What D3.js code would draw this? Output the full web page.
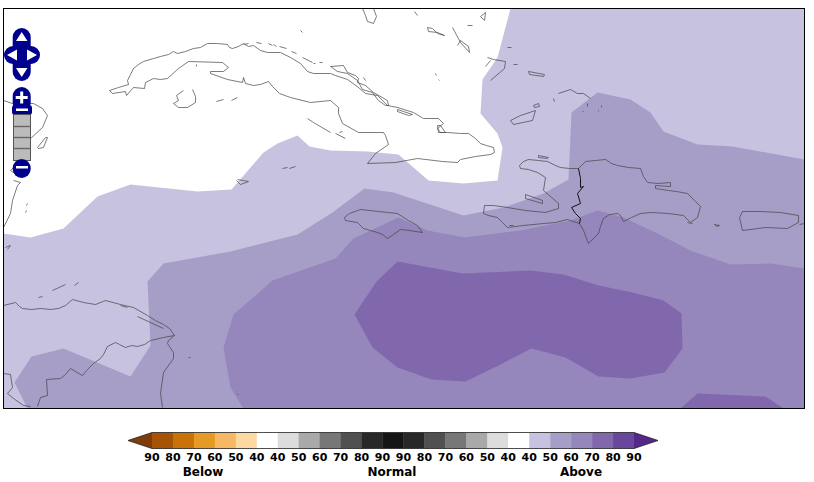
<!DOCTYPE html>
<html>
<head>
<meta charset="utf-8">
<script src="https://cdnjs.cloudflare.com/ajax/libs/d3/7.8.5/d3.min.js"></script>
<style>
	html, body { margin: 0; padding: 0; background: #fff; }
	text { font-family: "DejaVu Sans", sans-serif; fill: #000; }
</style>
</head>
<body>
<svg id="chart" width="814" height="482"></svg>
<script>
// Map values are read in grid units: 0-801 across, 0-400 down the map frame.

// Probability of the "above" tercile, outer edge of each shaded area
const above40 = [[507,0],[494,49],[479,71],[477,105],[494,125],[499,139],[494,172],[460,175],[425,172],[395,146],[364,143],[327,142],[306,138],[294,127],[274,135],[260,144],[228,181],[194,183],[127,176],[94,188],[60,220],[27,229],[0,225],[0,400],[801,400],[801,0]]
const above50 = [[594,84],[627,91],[647,104],[660,123],[694,136],[729,138],[801,151],[801,400],[24,400],[11,374],[28,348],[60,340],[127,368],[147,337],[144,273],[160,255],[227,243],[294,226],[329,204],[361,180],[390,184],[460,207],[500,199],[540,185],[565,171],[568,104]]
const above60 = [[220,339],[230,306],[269,272],[332,250],[350,230],[395,209],[424,222],[461,229],[517,222],[567,212],[594,202],[620,209],[654,225],[687,242],[727,256],[767,255],[801,260],[801,400],[240,400],[227,379]]
const above70 = [[394,253],[459,265],[527,262],[560,266],[595,277],[629,284],[660,292],[678,305],[679,340],[661,364],[627,370],[595,368],[562,349],[528,340],[495,357],[462,373],[428,371],[394,359],[369,339],[351,306],[373,273]]
const above70South = [[677,400],[694,385],[762,388],[780,400]]

// Coastlines
const cuba = [[106,82],[115,79],[125,76],[124,72],[127,66],[130,60],[135,56],[140,53],[150,50],[157,48],[165,46],[170,43],[174,45],[182,43],[190,40],[197,39],[204,35],[214,35],[224,36],[226,39],[229,40],[235,38],[240,35],[245,38],[250,37],[257,42],[264,44],[277,44],[287,49],[297,55],[304,63],[310,65],[327,65],[332,67],[344,71],[355,79],[362,85],[374,87],[384,97],[394,99],[410,104],[420,110],[435,110],[440,115],[434,120],[437,124],[444,124],[457,125],[465,125],[472,130],[477,135],[483,137],[490,139],[491,144],[487,146],[472,148],[457,151],[454,154],[439,153],[414,150],[392,154],[364,155],[372,145],[385,136],[382,127],[380,124],[355,124],[339,115],[335,105],[335,99],[327,92],[307,94],[287,89],[276,85],[269,78],[265,73],[257,76],[250,77],[242,75],[240,69],[239,74],[224,71],[207,65],[207,63],[220,63],[225,59],[219,54],[185,53],[175,60],[164,70],[157,71],[150,70],[142,74],[141,80],[130,79],[123,87],[122,83],[109,85],[106,82]]
const isleOfYouth = [[180,82],[173,87],[175,92],[170,95],[175,99],[184,99],[192,94],[192,88],[189,81]]
const jamaica = [[341,209],[346,205],[357,201],[375,203],[394,205],[405,212],[414,217],[419,224],[406,222],[397,221],[390,226],[384,230],[379,226],[374,224],[360,220],[354,214],[342,212],[341,209]]
const hispaniola = [[516,157],[520,153],[525,151],[535,152],[544,153],[552,157],[557,159],[566,160],[575,160],[582,153],[592,152],[602,151],[608,155],[614,157],[625,159],[637,160],[640,168],[644,174],[655,175],[667,174],[667,178],[652,177],[652,180],[665,182],[673,183],[684,185],[691,192],[697,198],[694,209],[687,214],[680,207],[665,205],[647,204],[637,205],[628,209],[620,213],[617,207],[614,205],[606,206],[600,210],[597,218],[595,225],[585,235],[580,222],[576,215],[564,211],[552,214],[540,215],[520,217],[504,219],[499,214],[494,209],[485,207],[480,205],[481,197],[490,197],[504,199],[522,202],[542,204],[555,200],[555,195],[547,188],[540,182],[542,169],[534,164],[525,161],[517,160],[516,157]]
const haitiBorder = [[575,160],[577,170],[577,179],[580,178],[574,185],[577,195],[568,199],[572,205],[577,210],[576,215]]
const puertoRico = [[739,203],[757,203],[777,204],[795,207],[795,214],[784,220],[762,219],[739,222],[736,209],[739,203]]
const yucatan = [[0,92],[9,95],[30,95],[39,100],[44,107],[39,119],[25,132],[18,140],[18,152],[7,162],[14,167]]
const belize = [[10,172],[17,174],[14,177],[9,192],[7,205],[0,219]]
const honduras = [[0,297],[12,294],[16,298],[19,300],[28,301],[37,300],[47,301],[55,300],[62,297],[69,291],[80,294],[92,296],[102,292],[117,296],[130,299],[144,307],[152,312],[160,316],[166,320],[171,327],[160,329],[147,332],[141,336],[134,338],[128,337],[122,339],[116,336],[112,334],[104,338],[100,346],[97,350],[90,355],[84,361],[79,367],[72,363],[67,360],[62,366],[57,370],[43,371],[44,387],[37,389],[34,398]]
const nicaragua = [[171,327],[165,332],[164,335],[170,344],[170,350],[160,364],[157,385],[159,399]]
const gulfOfHonduras = [[0,365],[7,366],[9,379],[4,385],[10,390],[20,397],[27,398]]
const bahamas = [
	[[424,19],[429,20],[434,25],[441,27],[434,24],[425,23],[424,19]],
	[[449,19],[457,34],[466,44],[465,38],[457,32],[454,37]],
	[[484,49],[490,51],[502,53],[501,60],[487,72]],
	[[482,58],[487,52]],
	[[525,63],[541,66],[540,68],[526,66],[525,63]],
	[[555,85],[567,81],[574,85],[580,85],[587,90]],
	[[507,112],[517,107],[532,102],[529,112],[510,116],[507,112]],
	[[530,97],[535,95],[536,98],[531,99],[530,97]],
	[[477,8],[482,4],[481,12],[477,8]],
	[[464,17],[469,17]]
]
const florida = [[359,0],[362,7],[364,13],[370,15],[373,8],[370,0]]
const cays = [
	[[240,36],[245,35]],[[253,34],[258,35]],[[265,35],[269,37]],[[270,36],[273,38]],[[276,38],[283,40]],
	[[288,43],[293,45]],[[299,49],[309,54]],[[310,55],[312,55]],[[316,54],[319,54]],[[297,22],[299,24]],
	[[327,58],[340,57],[344,64],[352,67],[355,70],[354,74],[362,77],[370,84],[384,92],[385,97],[382,97],[375,92],[369,84],[359,81],[354,72],[344,65],[334,63],[327,58]],
	[[360,69],[362,72]],[[394,101],[400,103],[409,106],[405,107],[394,103],[394,101]],
	[[434,117],[435,124],[442,124],[437,117],[434,117]],
	[[304,110],[310,114],[327,124]],[[332,125],[342,130]],[[336,124],[339,123]],
	[[411,3],[414,7]],[[504,39],[508,39]],[[510,56],[514,56]],[[432,65],[433,67]],[[435,71],[436,72]],
	[[550,90],[551,93]],[[584,95],[584,98]],[[598,97],[598,99]],[[579,103],[580,103]],[[595,102],[595,103]],
	[[213,93],[220,91]],[[228,92],[234,89]],[[193,56],[193,58]],[[279,160],[284,159]],[[286,160],[292,158]],
	[[234,171],[245,173],[237,176],[233,172]],[[49,282],[62,276]],[[35,289],[39,288]],[[71,277],[75,274]],
	[[117,297],[124,299]],[[134,308],[160,320]],[[24,195],[23,197]],[[22,204],[23,202]],
	[[34,139],[42,129],[44,129],[40,139],[35,140],[34,139]],[[2,239],[7,237],[4,241]],
	[[522,186],[539,192],[539,195],[522,190],[522,186]],[[535,147],[545,149],[544,150],[535,149],[535,147]],
	[[506,217],[510,217]],[[684,214],[689,215]],[[711,216],[716,217],[713,218],[711,216]],
	[[796,216],[801,215]],[[185,349],[187,349]],[[234,386],[235,386]]
]

const coastlines = [cuba, isleOfYouth, jamaica, hispaniola, puertoRico, yucatan, belize, honduras, nicaragua, gulfOfHonduras, florida, ...bahamas, ...cays]

// Colour bar
const barLabels = [90,80,70,60,50,40,40,50,60,70,80,90,90,80,70,60,50,40,40,50,60,70,80,90]
const barColors = ['#a65306','#c97208','#e69a26','#f6b863','#fbd9a0','#ffffff','#dcdcdc','#a9a9a9','#777777','#505050','#282828','#151515','#282828','#505050','#777777','#a9a9a9','#dcdcdc','#ffffff','#c6c2e0','#a79ec8','#9586bb','#8168ad','#68479c']
const barLowEnd = '#7f3b08'
const barHighEnd = '#542788'
const barGroups = ['Below', 'Normal', 'Above']

const levels = [
	{ rings: [above40], color: '#c6c2e0' },
	{ rings: [above50], color: '#a79ec8' },
	{ rings: [above60], color: '#9586bb' },
	{ rings: [above70, above70South], color: '#8168ad' }
]

const NAVY = '#00008f'

let svg = d3.select('#chart')

createMap()
createControls()
createColorBar()

/**
 * Shaded probability areas, coastlines and the frame.
 */
function createMap() {
	let x = d3.scaleLinear().domain([0, 801]).range([3.5, 804.5])
	let y = d3.scaleLinear().domain([0, 400]).range([8.5, 408.5])
	let line = d3.line().x(d => x(d[0])).y(d => y(d[1]))

	svg.append('clipPath').attr('id', 'map-clip')
		.append('rect')
		.attr('x', x(0)).attr('y', y(0))
		.attr('width', x(801) - x(0)).attr('height', y(400) - y(0))

	let map = svg.append('g').attr('clip-path', 'url(#map-clip)')

	levels.forEach(level => {
		map.append('g').selectAll('path')
			.data(level.rings)
			.join('path')
			.attr('d', d => line(d) + 'Z')
			.attr('fill', level.color)
	})

	map.append('g').selectAll('path')
		.data(coastlines)
		.join('path')
		.attr('d', line)
		.attr('fill', 'none')
		.attr('stroke', '#444')
		.attr('stroke-width', 0.7)
		.attr('stroke-linejoin', 'round')

	map.append('path')
		.attr('d', line(haitiBorder))
		.attr('fill', 'none')
		.attr('stroke', '#111')
		.attr('stroke-width', 1)

	svg.append('rect')
		.attr('x', x(0)).attr('y', y(0))
		.attr('width', x(801) - x(0)).attr('height', y(400) - y(0))
		.attr('fill', 'none')
		.attr('stroke', '#000')
		.attr('stroke-width', 1)
}

/**
 * The pan and zoom buttons over the top left of the map.
 */
function createControls() {
	let g = svg.append('g')
	let capsule = (cx, y0, y1, w) => g.append('rect')
		.attr('x', cx - w / 2).attr('y', y0)
		.attr('width', w).attr('height', y1 - y0)
		.attr('rx', w / 2)
		.attr('fill', NAVY)
	let white = d => g.append('path').attr('d', d).attr('fill', '#fff')

	// pan
	capsule(21.7, 28, 81, 18)
	g.append('rect').attr('x', 4).attr('y', 46).attr('width', 36).attr('height', 18).attr('rx', 9).attr('fill', NAVY)
	white('M21.7 32L27.5 41H16Z')
	white('M21.7 77L27.5 68H16Z')
	white('M7 55L17 49.5V60.5Z')
	white('M37 55L27 49.5V60.5Z')

	// zoom in
	capsule(21.7, 87, 112, 18)
	white('M20.2 91.5h3v4.5h4.5v3h-4.5v4.5h-3v-4.5h-4.5v-3h4.5Z')
	g.append('rect').attr('x', 12).attr('y', 105).attr('width', 20).attr('height', 10).attr('rx', 3).attr('fill', NAVY)
	g.append('rect').attr('x', 16).attr('y', 108.5).attr('width', 12).attr('height', 2.5).attr('fill', '#fff')

	// zoom levels
	g.append('rect').attr('x', 13.5).attr('y', 114.5).attr('width', 17).attr('height', 46)
		.attr('fill', '#bbb').attr('stroke', '#555').attr('stroke-width', 1)
	;[126.5, 137.5, 148.5].forEach(v => {
		g.append('line').attr('x1', 13.5).attr('x2', 30.5).attr('y1', v).attr('y2', v)
			.attr('stroke', '#666').attr('stroke-width', 1.4)
	})

	// zoom out
	capsule(21.7, 159, 178, 18)
	g.append('rect').attr('x', 16).attr('y', 166).attr('width', 12).attr('height', 2.5).attr('fill', '#fff')
}

/**
 * Tercile colour bar under the map.
 */
function createColorBar() {
	const top = 432.5, bottom = 448.5
	let x = d3.scaleBand()
		.domain(d3.range(barColors.length))
		.range([152, 634])
	let ticks = d3.scalePoint()
		.domain(d3.range(barLabels.length))
		.range([152, 634])
	let bar = svg.append('g')

	bar.selectAll('rect')
		.data(barColors)
		.join('rect')
		.attr('x', (d, i) => x(i))
		.attr('y', top)
		.attr('width', x.bandwidth() + 0.3)
		.attr('height', bottom - top)
		.attr('fill', d => d)

	let mid = (top + bottom) / 2
	bar.append('path').attr('d', `M152 ${top}L128 ${mid}L152 ${bottom}Z`).attr('fill', barLowEnd)
	bar.append('path').attr('d', `M634 ${top}L658 ${mid}L634 ${bottom}Z`).attr('fill', barHighEnd)

	// outline
	bar.append('path')
		.attr('d', `M152 ${top}H634L658 ${mid}L634 ${bottom}H152L128 ${mid}Z`)
		.attr('fill', 'none')
		.attr('stroke', '#222')
		.attr('stroke-width', 0.8)

	bar.selectAll('text.tick')
		.data(barLabels)
		.join('text')
		.attr('class', 'tick')
		.attr('x', (d, i) => ticks(i))
		.attr('y', 460.5)
		.attr('text-anchor', 'middle')
		.attr('font-size', 11)
		.attr('font-weight', 'bold')
		.text(d => d)

	let groupX = d3.scalePoint().domain(barGroups).range([203, 581])
	bar.selectAll('text.group')
		.data(barGroups)
		.join('text')
		.attr('class', 'group')
		.attr('x', d => groupX(d))
		.attr('y', 476)
		.attr('text-anchor', 'middle')
		.attr('font-size', 12)
		.attr('font-weight', 'bold')
		.text(d => d)
}
</script>
</body>
</html>
